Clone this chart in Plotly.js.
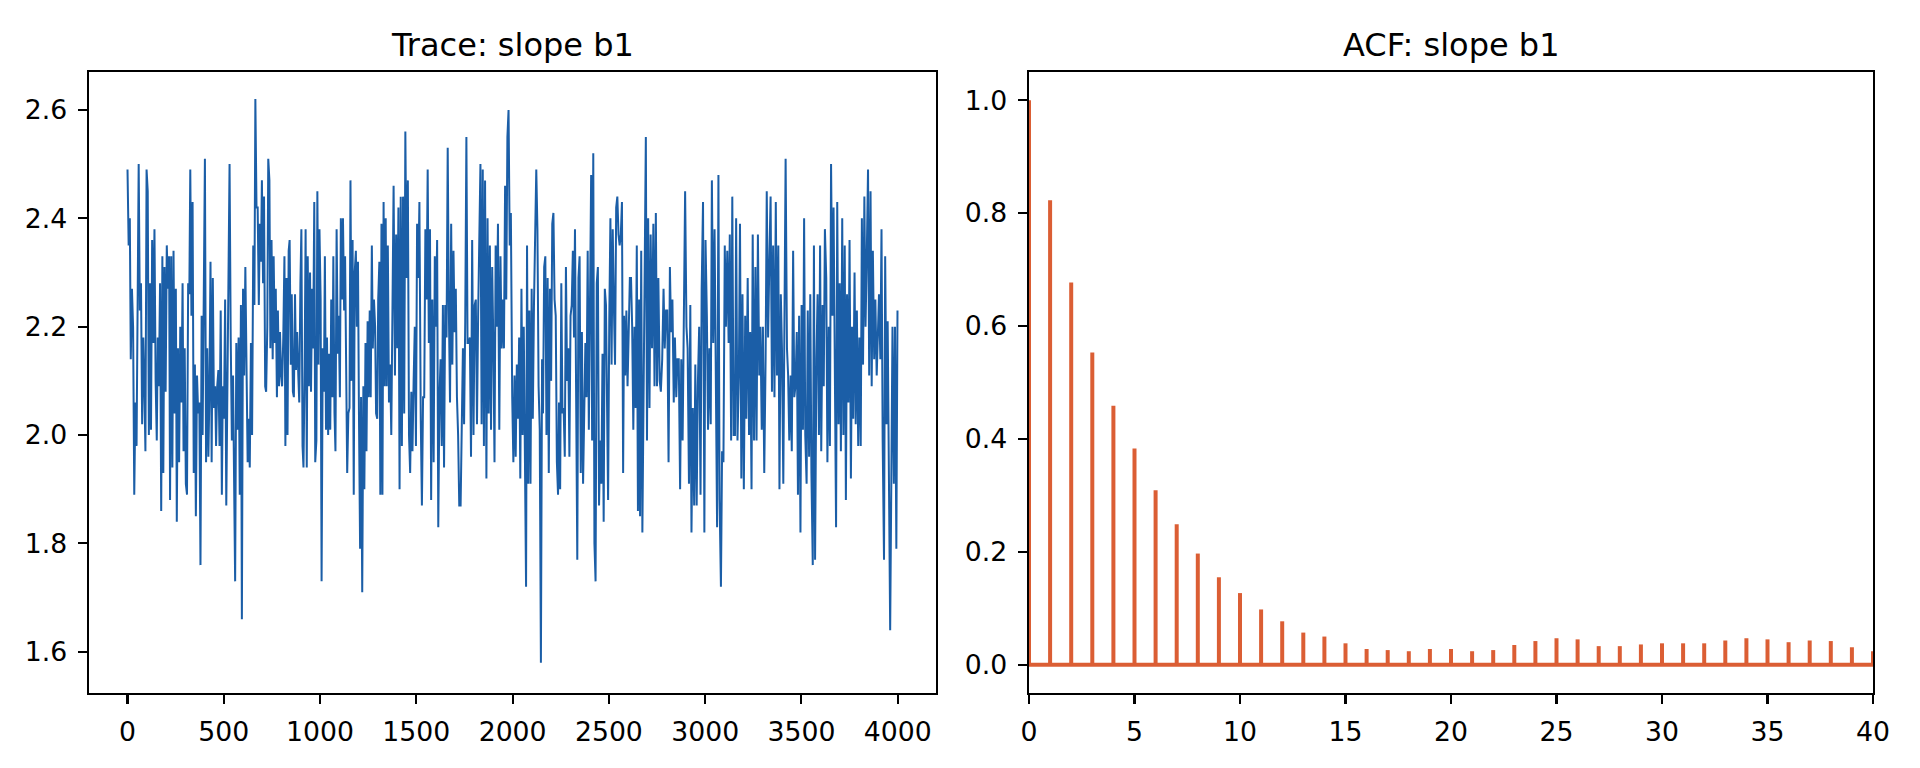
<!DOCTYPE html>
<html>
<head>
<meta charset="utf-8">
<title>Trace and ACF: slope b1</title>
<script src="https://cdn.plot.ly/plotly-3.0.1.min.js"></script>
<style>
    html, body { margin: 0; padding: 0; background: #ffffff; }
    #mcmc-plot { width: 1920px; height: 768px; }
</style>
</head>
<body>
<div id="mcmc-plot"></div>
<script>
// MCMC trace of slope b1 in six stretches of iterations
const chunkStarts = [0, 676, 1352, 2028, 2704, 3380];
const chunkEnds = [676, 1352, 2028, 2704, 3380, 3999];

const traceChunk1 = [
    2.49, 2.35, 2.40, 2.14, 2.27, 2.20, 1.89, 2.06, 1.98,
    2.33, 2.50, 2.23, 2.28, 2.02, 2.18,
    2.10, 1.97, 2.49, 2.45, 2.00, 2.28,
    2.01, 2.36, 2.17, 2.38, 2.10, 1.99,
    2.18, 2.09, 2.28, 1.86, 2.33, 1.93, 2.31,
    2.08, 2.35, 2.27, 2.33, 1.88, 2.33, 1.94, 2.34,
    2.04, 2.27, 1.84, 2.16, 1.95, 2.20,
    2.06, 2.28, 1.97, 2.16, 1.91, 1.89, 2.28,
    2.26, 2.49, 2.22, 2.43, 1.93, 2.13, 1.85, 2.11, 2.04,
    2.06, 1.76, 2.22, 2.00, 2.22, 2.51, 1.95, 2.16, 1.96,
    2.07, 2.32, 1.95, 2.29, 2.05, 2.09, 1.98, 2.09,
    2.12, 1.98, 2.23, 1.89, 2.09, 2.03, 2.25, 1.87, 2.10,
    2.36, 2.50, 2.18, 1.99, 2.11, 1.79, 1.73, 2.17, 2.01,
    2.18, 1.89, 2.24, 1.66, 2.27, 2.11, 2.31, 2.07,
    1.95, 2.03, 1.94, 2.17, 2.00, 2.35, 2.24, 2.62, 2.42
];
const traceChunk2 = [
    2.42, 2.24, 2.39, 2.32, 2.47, 2.28, 2.44, 2.09, 2.08,
    2.20, 2.51, 2.47, 2.16, 2.36, 2.14, 2.33, 2.17,
    2.27, 2.07, 2.23, 2.09, 2.19, 2.11, 2.09,
    2.18, 2.33, 1.98, 2.29, 2.00, 2.34, 2.36, 2.13,
    2.26, 2.08, 2.07, 2.26, 2.12, 2.19, 2.11,
    2.06, 2.28, 2.38, 1.98, 1.94, 2.13, 2.38, 1.94,
    2.33, 2.09, 2.30, 2.08, 2.27, 2.16, 2.43, 1.95,
    1.99, 2.45, 2.13, 2.38, 2.25, 1.73, 2.16,
    2.08, 2.33, 2.01, 2.18, 2.00, 2.15, 2.01,
    2.25, 2.07, 2.33, 2.04, 1.97, 2.38, 2.15, 2.22,
    2.07, 2.40, 2.25, 2.40, 2.23, 2.33, 2.10,
    1.93, 2.04, 2.05, 2.47, 2.10, 2.36, 1.89,
    2.30, 2.34, 2.20, 2.32, 2.04, 1.79, 2.07, 1.71,
    2.09, 1.90, 2.17, 1.97, 2.21, 2.07,
    2.23, 2.07, 2.35, 2.16, 2.25, 2.20, 2.04,
    2.03, 2.25, 2.32, 1.89, 2.39, 1.89, 2.43, 2.09,
    2.40, 2.09
];
const traceChunk3 = [
    2.35, 2.06, 2.13, 2.00, 2.27, 2.46, 2.11,
    2.37, 2.16, 2.42, 1.90, 2.44, 1.98, 2.44,
    2.04, 2.56, 2.29, 2.47, 2.00, 1.93, 2.08,
    1.97, 2.10, 2.20, 1.98, 2.39, 2.29, 2.43, 2.03,
    1.87, 2.07, 2.07, 2.38, 2.25, 2.49, 2.17, 2.38,
    1.88, 2.25, 1.95, 2.33, 2.20, 2.36, 1.83, 2.07,
    2.14, 1.98, 2.24, 1.94, 2.24, 2.18, 2.53, 2.23,
    2.06, 2.39, 2.13, 2.34, 2.19, 2.27, 2.07, 2.00,
    1.87, 1.87, 1.98, 2.16, 2.02, 2.21, 2.55,
    2.17, 2.17, 2.18, 1.96, 2.36, 2.00, 2.24,
    2.25, 2.02, 2.22, 2.33, 2.50, 2.02, 2.49,
    1.98, 2.47, 1.92, 2.40, 2.04, 2.35, 2.01,
    2.31, 2.17, 1.95, 2.35, 2.20, 2.39, 2.01,
    2.33, 2.16, 2.25, 2.16, 2.46, 2.25, 2.55,
    2.60, 2.35, 2.41, 2.07, 1.95, 2.11, 1.96, 2.13
];
const traceChunk4 = [
    2.03, 2.18, 1.92, 2.27, 2.00, 2.20,
    1.95, 1.72, 2.35, 1.91, 2.23, 1.91, 2.27,
    2.03, 2.24, 2.40, 2.49, 2.38, 2.09, 2.01,
    1.58, 2.14, 2.04, 2.31, 2.33, 2.00, 2.29, 1.93,
    2.27, 2.10, 2.39, 2.41, 2.25, 2.22, 1.95, 1.89,
    2.06, 1.90, 2.28, 2.04, 2.05, 1.96, 2.31,
    2.10, 2.16, 1.96, 2.22, 2.24, 2.34, 2.18,
    2.38, 2.07, 1.77, 2.29, 2.33, 1.93, 2.19,
    1.91, 2.02, 2.17, 2.07, 2.34, 2.01, 2.32,
    2.48, 1.99, 2.52, 1.80, 1.73, 2.28, 2.31,
    1.87, 1.99, 1.91, 2.15, 1.84, 2.27,
    2.24, 2.04, 1.88, 2.21, 2.40, 2.13, 2.38, 2.24,
    2.13, 2.42, 2.44, 2.37, 2.35, 2.37, 2.43,
    1.93, 2.22, 2.11, 2.23, 2.09, 2.17, 2.29,
    2.29, 2.20, 2.01, 2.20, 2.05, 2.35, 1.86,
    2.25, 1.85, 2.34, 1.82, 2.08, 2.42, 2.55, 1.99
];
const traceChunk5 = [
    2.40, 2.05, 2.37, 2.16, 2.39, 2.09, 2.41,
    2.09, 2.29, 2.10, 2.08, 2.14, 2.27, 2.16, 2.23,
    2.23, 1.95, 2.31, 2.19, 2.25, 2.06, 2.18, 2.07,
    2.14, 2.14, 1.90, 2.14, 1.99, 2.27, 2.45, 2.20,
    2.16, 1.91, 2.24, 1.82, 2.05, 1.87, 2.13, 1.87,
    2.09, 2.20, 1.89, 2.27, 2.43, 1.82, 2.36, 2.22,
    2.01, 2.16, 2.02, 2.47, 2.17, 2.38, 2.13, 1.83,
    2.48, 1.88, 1.72, 1.97, 1.95, 2.35, 2.20, 2.34,
    2.17, 2.37, 1.99, 2.44, 2.00, 2.00, 2.40,
    1.99, 2.11, 2.39, 1.92, 2.26, 1.90, 2.22, 2.03,
    2.29, 2.00, 2.19, 1.90, 2.37, 1.99, 2.31, 1.99,
    2.37, 2.11, 2.20, 2.01, 2.20, 1.93, 2.14,
    2.45, 2.18, 2.33, 2.44, 2.08, 2.35, 2.07, 2.43, 2.11
];
const traceChunk6 = [
    2.35, 1.90, 2.26, 2.16, 1.91, 2.22, 2.51, 2.16,
    2.11, 1.99, 2.11, 1.97, 2.34, 2.07, 2.09,
    2.19, 1.89, 2.22, 1.82, 2.24, 2.01, 2.40, 2.00,
    1.91, 2.23, 1.96, 2.26, 1.93, 1.76, 2.35, 1.77,
    2.14, 2.26, 2.00, 2.35, 1.97, 2.24, 2.09, 2.38,
    2.29, 1.95, 2.20, 1.98, 2.50, 2.22, 2.42, 2.09,
    1.83, 2.43, 2.02, 2.28, 1.97, 2.40, 2.00, 2.35,
    1.88, 2.26, 2.06, 2.36, 1.92, 2.20, 2.03,
    2.30, 2.02, 2.23, 1.98, 2.18, 1.98, 2.40, 2.13,
    2.44, 2.20, 2.32, 2.49, 2.11, 2.45, 2.09, 2.34,
    2.14, 2.25, 2.11, 2.17, 2.26, 2.14, 2.38, 1.99,
    1.77, 2.33, 2.02, 2.21, 1.94, 1.64, 1.92, 2.20,
    1.91, 2.20, 1.79, 2.23
];

// Autocorrelation by lag (lag 0 .. 40)
const acfValues = [
    1.000, 0.823, 0.677, 0.553, 0.459, 0.383, 0.309, 0.249, 0.197, 0.155,
    0.127, 0.098, 0.077, 0.057, 0.050, 0.038, 0.028, 0.026, 0.024, 0.028,
    0.028, 0.024, 0.026, 0.035, 0.042, 0.047, 0.045, 0.033, 0.033, 0.036,
    0.038, 0.038, 0.038, 0.043, 0.047, 0.045, 0.040, 0.043, 0.042, 0.031,
    0.024
];

const traceTicks = [0, 500, 1000, 1500, 2000, 2500, 3000, 3500, 4000];
const traceValueTicks = [1.6, 1.8, 2.0, 2.2, 2.4, 2.6];
const acfLagTicks = [0, 5, 10, 15, 20, 25, 30, 35, 40];
const acfValueTicks = [0.0, 0.2, 0.4, 0.6, 0.8, 1.0];

(function () {
    'use strict';

    const COLORS = {
        trace: '#1b5ea7',
        acf: '#db5e34',
        axis: '#000000',
        text: '#000000'
    };

    // figure is 10 x 4 in at 192 dpi: 10pt ticks, 12pt titles
    const FONT = '"DejaVu Sans", Verdana, sans-serif';
    const TICK_SIZE = 26.7;
    const TITLE_SIZE = 32;

    // spread each stretch of readings evenly over its iteration span
    function buildTrace() {
        const chunks = [traceChunk1, traceChunk2, traceChunk3, traceChunk4, traceChunk5, traceChunk6];
        const xs = [];
        const ys = [];
        chunks.forEach((vals, c) => {
            const last = c === chunks.length - 1;
            const span = chunkEnds[c] - chunkStarts[c];
            const steps = last ? vals.length - 1 : vals.length;
            vals.forEach((v, j) => {
                xs.push(Math.round(chunkStarts[c] + j * span / steps));
                ys.push(v);
            });
        });
        return { x: xs, y: ys };
    }

    function buildStems() {
        const xs = [];
        const ys = [];
        acfValues.forEach((v, lag) => {
            xs.push(lag, lag, null);
            ys.push(0, v, null);
        });
        return { x: xs, y: ys };
    }

    const baseAxis = {
        showline: true,
        mirror: true,
        linecolor: COLORS.axis,
        linewidth: 2.1,
        showgrid: false,
        zeroline: false,
        ticks: 'outside',
        ticklen: 9.3,
        tickwidth: 2.1,
        tickcolor: COLORS.axis,
        ticklabelstandoff: 5,
        tickfont: { family: FONT, size: TICK_SIZE, color: COLORS.text }
    };

    function draw() {
        const tr = buildTrace();
        const st = buildStems();

        const traces = [
            {
                x: tr.x,
                y: tr.y,
                type: 'scatter',
                mode: 'lines',
                line: { color: COLORS.trace, width: 2 },
                xaxis: 'x',
                yaxis: 'y',
                hoverinfo: 'skip'
            },
            {
                x: st.x,
                y: st.y,
                type: 'scatter',
                mode: 'lines',
                line: { color: COLORS.acf, width: 4 },
                xaxis: 'x2',
                yaxis: 'y2',
                connectgaps: false,
                hoverinfo: 'skip'
            }
        ];

        const layout = {
            width: 1920,
            height: 768,
            margin: { t: 0, r: 0, b: 0, l: 0 },
            paper_bgcolor: '#ffffff',
            plot_bgcolor: '#ffffff',
            showlegend: false,
            font: { family: FONT, color: COLORS.text },
            xaxis: {
                ...baseAxis,
                domain: [89 / 1920, 936 / 1920],
                range: [-200, 4199],
                tickvals: traceTicks,
                tickformat: 'd',
                anchor: 'y'
            },
            yaxis: {
                ...baseAxis,
                domain: [1 - 693 / 768, 1 - 72 / 768],
                range: [1.524, 2.670],
                tickvals: traceValueTicks,
                tickformat: '.1f',
                anchor: 'x'
            },
            xaxis2: {
                ...baseAxis,
                domain: [1029 / 1920, 1873 / 1920],
                range: [0, 40],
                tickvals: acfLagTicks,
                tickformat: 'd',
                anchor: 'y2'
            },
            yaxis2: {
                ...baseAxis,
                domain: [1 - 693 / 768, 1 - 72 / 768],
                range: [-0.05, 1.05],
                tickvals: acfValueTicks,
                tickformat: '.1f',
                anchor: 'x2'
            },
            shapes: [
                {
                    type: 'line',
                    xref: 'x2 domain',
                    yref: 'y2',
                    x0: 0, x1: 1, y0: 0, y1: 0,
                    line: { color: COLORS.acf, width: 4 },
                    layer: 'above'
                }
            ],
            annotations: [
                {
                    text: 'Trace: slope b1',
                    xref: 'paper', yref: 'paper',
                    x: (89 + 936) / 2 / 1920, y: 1 - 45 / 768,
                    xanchor: 'center', yanchor: 'middle',
                    showarrow: false,
                    font: { family: FONT, size: TITLE_SIZE, color: COLORS.text }
                },
                {
                    text: 'ACF: slope b1',
                    xref: 'paper', yref: 'paper',
                    x: (1029 + 1873) / 2 / 1920, y: 1 - 45 / 768,
                    xanchor: 'center', yanchor: 'middle',
                    showarrow: false,
                    font: { family: FONT, size: TITLE_SIZE, color: COLORS.text }
                }
            ]
        };

        Plotly.newPlot('mcmc-plot', traces, layout, { displayModeBar: false, staticPlot: true });
    }

    if (document.readyState === 'loading') {
        document.addEventListener('DOMContentLoaded', draw);
    } else {
        draw();
    }
})();
</script>
</body>
</html>
